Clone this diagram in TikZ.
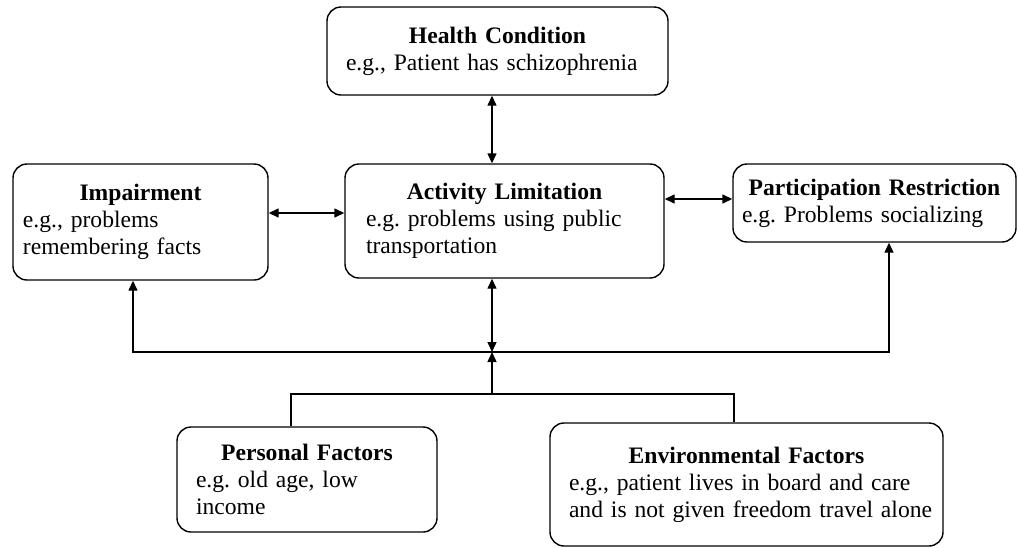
\documentclass[tikz,border=0pt]{standalone}
\usepackage{fontspec}
\setmainfont{Liberation Serif}
\usetikzlibrary{arrows.meta}
\tikzset{>={Triangle[length=5pt,width=4.5pt]}}
\tikzset{box/.style={draw,line width=0.7pt,rounded corners=7pt,inner xsep=9.5pt,
  font=\fontsize{11.8}{13.5}\selectfont\frenchspacing,align=left}}

\begin{document}
\begin{tikzpicture}[x=0.5pt,y=-0.5pt,line width=0.7pt]
  \useasboundingbox (0,0) rectangle (1018,547);
  % boxes
  \node[box,minimum width=170.5pt,minimum height=44pt,text width=151.5pt] (hc) at (497.5,51)
    {\centering\textbf{Health Condition}\par\raggedright e.g., Patient has schizophrenia};
  \node[box,inner xsep=5pt,minimum width=127.5pt,minimum height=58pt,text width=117.5pt] (imp) at (140.5,222)
    {\centering\textbf{Impairment}\par\raggedright e.g., problems\\remembering facts};
  \node[box,inner xsep=10.5pt,minimum width=159.5pt,minimum height=57pt,text width=138.5pt] (act) at (504.5,221)
    {\centering\textbf{Activity Limitation}\par\raggedright e.g. problems using public\\transportation};
  \node[box,inner xsep=4.5pt,minimum width=141.5pt,minimum height=39pt,text width=132.5pt] (par) at (874.5,203)
    {\centering\textbf{Participation Restriction}\par\raggedright e.g. Problems socializing};
  \node[box,minimum width=130pt,minimum height=52.5pt,text width=111pt] (per) at (307,479.5)
    {\centering\textbf{Personal Factors}\par\raggedright e.g. old age, low\\income};
  \node[box,minimum width=196.5pt,minimum height=61.5pt,text width=177.5pt] (env) at (746.5,484.5)
    {\centering\textbf{Environmental Factors}\par\raggedright
     \mbox{e.g., patient lives in board and care}\\\mbox{and is not given freedom travel alone}};
  % junctions
  \coordinate (hub) at (492,352);
  \coordinate (hubL) at (133,352);
  \coordinate (hubR) at (889,352);
  \coordinate (fork) at (492,394);
  \coordinate (forkL) at (291,394);
  \coordinate (forkR) at (734,394);
  % links between boxes
  \draw[<->] (hc.south -| hub) -- (act.north -| hub);
  \draw[<->] ([yshift=4.5pt]imp.east) -- ([yshift=4.5pt]imp.east -| act.west);
  \draw[<->] ([yshift=2pt]par.west -| act.east) -- ([yshift=2pt]par.west);
  \draw[<->] (act.south -| hub) -- (hub);
  % factors feed back
  \draw[->] (hubR) -- (hubL) -- (imp.south -| hubL);
  \draw[->] (hub) -- (hubR) -- (par.south -| hubR);
  \draw[->] (fork) -- (hub);
  \draw (per.north -| forkL) -- (forkL) -- (forkR) -- (env.north -| forkR);
\end{tikzpicture}
\end{document}
